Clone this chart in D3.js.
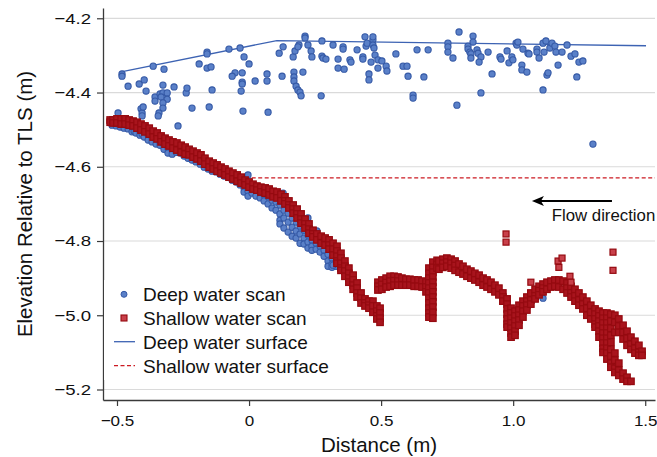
<!DOCTYPE html>
<html>
<head>
<meta charset="utf-8">
<script src="https://cdn.jsdelivr.net/npm/d3@7"></script>
<style>
  html, body { margin: 0; padding: 0; background: #ffffff; }
  svg { display: block; }
</style>
</head>
<body>
<svg id="chart" width="657" height="457"></svg>
<script>
// ---------------- DATA ----------------
const xTicks = [-0.5, 0, 0.5, 1.0, 1.5];
const xTickLabels = ["\u22120.5", "0", "0.5", "1.0", "1.5"];
const yTicks = [-4.2, -4.4, -4.6, -4.8, -5.0, -5.2];
const yTickLabels = ["\u22124.2", "\u22124.4", "\u22124.6", "\u22124.8", "\u22125.0", "\u22125.2"];

const xTitle = "Distance (m)";
const yTitle = "Elevation Relative to TLS (m)";
const legendLabels = ["Deep water scan", "Shallow water scan", "Deep water surface", "Shallow water surface"];
const annotationText = "Flow direction";
const arrowFrom = [1.374, -4.692];
const arrowTo = [1.071, -4.692];
const annotationPos = [1.146, -4.746];

// Deep water scan: scattered returns near the surface
const deepScanTop = [
[-0.481,-4.350],[-0.481,-4.356],[-0.458,-4.383],[-0.416,-4.377],[-0.397,-4.366],[-0.390,-4.396],
[-0.363,-4.329],[-0.356,-4.412],[-0.356,-4.423],[-0.337,-4.404],[-0.326,-4.380],[-0.326,-4.401],
[-0.333,-4.412],[-0.310,-4.401],[-0.310,-4.418],[-0.326,-4.428],[-0.326,-4.442],[-0.341,-4.455],
[-0.344,-4.463],[-0.322,-4.337],[-0.284,-4.385],[-0.238,-4.401],[-0.235,-4.388],[-0.216,-4.442],
[-0.189,-4.323],[-0.159,-4.291],[-0.159,-4.296],[-0.159,-4.334],[-0.144,-4.331],[-0.140,-4.393],
[-0.151,-4.439],[-0.076,-4.283],[-0.034,-4.280],[-0.019,-4.304],[0.000,-4.323],[-0.026,-4.347],
[-0.053,-4.347],[-0.064,-4.356],[-0.026,-4.372],[-0.026,-4.377],[-0.030,-4.396],[-0.023,-4.450],
[0.023,-4.369],[0.068,-4.350],[0.068,-4.369],[0.072,-4.453],[0.114,-4.294],[0.125,-4.356],
[0.129,-4.277],[0.167,-4.304],[0.174,-4.288],[0.189,-4.272],[0.185,-4.277],[0.212,-4.248],
[0.212,-4.253],[0.223,-4.272],[0.235,-4.288],[0.238,-4.304],[0.170,-4.345],[0.170,-4.358],
[0.170,-4.369],[0.178,-4.383],[0.185,-4.393],[0.193,-4.399],[0.197,-4.409],[0.204,-4.345],
[0.273,-4.409],[0.276,-4.261],[0.276,-4.302],[0.280,-4.307],[0.291,-4.310],[0.318,-4.272],
[0.337,-4.310],[0.337,-4.334],[0.360,-4.337],[0.356,-4.277],[0.356,-4.283],[0.382,-4.312],
[0.386,-4.318],[0.409,-4.285],[0.431,-4.304],[0.431,-4.310],[0.439,-4.250],[0.443,-4.275],
[0.447,-4.267],[0.454,-4.350],[0.454,-4.366],[0.462,-4.318],[0.469,-4.258],[0.469,-4.250],
[0.469,-4.272],[0.473,-4.280],[0.477,-4.299],[0.488,-4.312],[0.488,-4.334],[0.503,-4.315],
[0.519,-4.329],[0.522,-4.342],[0.556,-4.296],[0.583,-4.329],[0.598,-4.329],[0.602,-4.356],
[0.621,-4.407],[0.621,-4.415],[0.636,-4.285],[0.662,-4.358],[0.678,-4.285],[0.753,-4.267],
[0.753,-4.277],[0.753,-4.291],[0.772,-4.307],[0.787,-4.434],[0.795,-4.237],[0.829,-4.275],
[0.829,-4.283],[0.836,-4.291],[0.840,-4.296],[0.840,-4.307],[0.848,-4.248],[0.848,-4.264],
[0.863,-4.285],[0.867,-4.294],[0.878,-4.304],[0.871,-4.318],[0.878,-4.401],[0.905,-4.291],
[0.920,-4.350],[0.950,-4.304],[0.954,-4.310],[0.977,-4.288],[0.984,-4.320],[0.995,-4.304],
[0.999,-4.312],[1.011,-4.267],[1.014,-4.272],[1.018,-4.264],[1.033,-4.326],[1.033,-4.339],
[1.037,-4.283],[1.052,-4.345],[1.056,-4.294],[1.060,-4.296],[1.090,-4.283],[1.090,-4.291],
[1.098,-4.307],[1.113,-4.267],[1.113,-4.393],[1.117,-4.291],[1.124,-4.261],[1.128,-4.353],
[1.132,-4.347],[1.139,-4.280],[1.147,-4.267],[1.158,-4.275],[1.162,-4.291],[1.170,-4.326],
[1.185,-4.291],[1.204,-4.272],[1.219,-4.302],[1.234,-4.296],[1.241,-4.358],[1.249,-4.318],
[1.264,-4.315],[1.302,-4.539],
[-0.496,-4.455],[-0.409,-4.444],[-0.405,-4.455],[-0.405,-4.463],[-0.401,-4.439],[-0.269,-4.490],
[-0.004,-4.622],[0.129,-4.671],[0.223,-4.738],[0.257,-4.773],[0.318,-4.865],[1.113,-4.954]
];

// Deep water scan: bed returns (x, elevations read at that x)
const deepScanBed = [
[-0.519,[-4.477,-4.488]],[-0.503,[-4.480,-4.490]],[-0.488,[-4.482,-4.493]],[-0.473,[-4.485,-4.496]],
[-0.458,[-4.488,-4.498]],[-0.443,[-4.493,-4.506]],[-0.435,[-4.504]],[-0.428,[-4.498,-4.509]],
[-0.413,[-4.504,-4.515]],[-0.405,[-4.512]],[-0.397,[-4.509,-4.520]],[-0.382,[-4.515,-4.528]],
[-0.367,[-4.523,-4.533]],[-0.352,[-4.528,-4.539]],[-0.337,[-4.533,-4.542]],[-0.322,[-4.542,-4.553]],
[-0.307,[-4.550,-4.563]],[-0.291,[-4.555,-4.566]],[-0.276,[-4.547,-4.561]],[-0.261,[-4.553,-4.563]],
[-0.246,[-4.561,-4.571]],[-0.231,[-4.566,-4.577]],[-0.216,[-4.571,-4.582]],[-0.201,[-4.577,-4.587]],
[-0.185,[-4.582,-4.593]],[-0.170,[-4.590,-4.601]],[-0.155,[-4.595,-4.606]],[-0.140,[-4.601,-4.612]],
[-0.125,[-4.604,-4.614]],[-0.110,[-4.609,-4.620]],[-0.095,[-4.614,-4.625]],[-0.079,[-4.617,-4.628]],
[-0.064,[-4.622,-4.636]],[-0.049,[-4.628,-4.641]],[-0.034,[-4.633,-4.649]],[-0.019,[-4.641,-4.657,-4.668]],
[-0.004,[-4.649,-4.666,-4.679]],[0.011,[-4.657,-4.671]],[0.026,[-4.663,-4.679]],[0.042,[-4.668,-4.684]],
[0.057,[-4.676,-4.692]],[0.072,[-4.681,-4.700]],[0.087,[-4.690,-4.711]],[0.102,[-4.695,-4.717]],
[0.117,[-4.703,-4.727,-4.744,-4.754]],[0.132,[-4.717,-4.738,-4.765]],[0.148,[-4.725,-4.749,-4.776]],
[0.163,[-4.738,-4.763,-4.787]],[0.178,[-4.749,-4.773,-4.792]],[0.193,[-4.760,-4.781,-4.806]],
[0.208,[-4.771,-4.792,-4.808]],[0.223,[-4.784,-4.803,-4.819]],[0.238,[-4.797,-4.814,-4.825]],
[0.254,[-4.806,-4.822]],[0.269,[-4.814,-4.830]],[0.284,[-4.825,-4.841]],
[0.299,[-4.836,-4.854,-4.868]],[0.314,[-4.846,-4.862,-4.871]],[0.329,[-4.857,-4.868]]
];

// Shallow water scan (x, elevations read at that x)
const shallowScan = [
[-0.526,[-4.474,-4.480]],[-0.515,[-4.474,-4.482]],[-0.500,[-4.471,-4.482]],[-0.484,[-4.471,-4.485]],
[-0.469,[-4.471,-4.485]],[-0.454,[-4.474,-4.488]],[-0.439,[-4.477,-4.490]],[-0.424,[-4.480,-4.496]],
[-0.409,[-4.485,-4.501]],[-0.394,[-4.490,-4.506]],[-0.378,[-4.496,-4.512]],[-0.363,[-4.504,-4.520]],
[-0.348,[-4.509,-4.525]],[-0.333,[-4.517,-4.533]],[-0.318,[-4.523,-4.539]],[-0.303,[-4.528,-4.544]],
[-0.288,[-4.533,-4.550]],[-0.273,[-4.536,-4.555]],[-0.257,[-4.542,-4.561]],[-0.242,[-4.547,-4.566]],
[-0.227,[-4.553,-4.568]],[-0.212,[-4.558,-4.574]],[-0.197,[-4.563,-4.579]],[-0.182,[-4.568,-4.585]],
[-0.167,[-4.577,-4.593]],[-0.151,[-4.585,-4.601]],[-0.136,[-4.590,-4.606]],[-0.121,[-4.595,-4.612]],
[-0.106,[-4.601,-4.617]],[-0.091,[-4.606,-4.622]],[-0.076,[-4.612,-4.628]],[-0.061,[-4.617,-4.633]],
[-0.045,[-4.622,-4.639]],[-0.030,[-4.628,-4.644]],[-0.015,[-4.636,-4.649]],[0.000,[-4.641,-4.655]],
[0.015,[-4.647,-4.660]],[0.030,[-4.652,-4.663]],[0.045,[-4.655,-4.668]],[0.061,[-4.657,-4.671]],
[0.076,[-4.660,-4.676]],[0.091,[-4.666,-4.681]],[0.106,[-4.668,-4.684]],[0.121,[-4.674,-4.692]],
[0.136,[-4.681,-4.692,-4.700]],[0.151,[-4.692,-4.703,-4.711]],[0.167,[-4.703,-4.714,-4.725]],
[0.182,[-4.714,-4.727,-4.738]],[0.197,[-4.727,-4.741,-4.752]],[0.212,[-4.741,-4.754,-4.765]],
[0.227,[-4.754,-4.768,-4.779]],[0.242,[-4.771,-4.781,-4.789]],
[0.257,[-4.781,-4.797]],[0.273,[-4.787,-4.806]],[0.288,[-4.792,-4.811]],[0.303,[-4.797,-4.811,-4.822]],
[0.318,[-4.806,-4.822,-4.838]],
[0.333,[-4.814,-4.827,-4.841,-4.854,-4.860]],
[0.348,[-4.833,-4.846,-4.860,-4.873,-4.879]],
[0.363,[-4.854,-4.868,-4.881,-4.895]],
[0.378,[-4.873,-4.887,-4.900,-4.911]],
[0.394,[-4.892,-4.905,-4.919,-4.930]],
[0.409,[-4.913,-4.927,-4.940,-4.951]],
[0.424,[-4.940,-4.954,-4.967]],[0.439,[-4.956,-4.967,-4.975]],[0.454,[-4.962,-4.973,-4.981]],
[0.469,[-4.962,-4.975,-4.992]],[0.484,[-4.975,-4.989,-5.002,-5.010]],[0.496,[-4.981,-4.994,-5.008,-5.019]],
[0.488,[-4.911,-4.922,-4.932]],[0.503,[-4.905,-4.917,-4.930]],[0.519,[-4.900,-4.912,-4.924]],
[0.534,[-4.895,-4.908,-4.922]],[0.549,[-4.895,-4.907,-4.919]],[0.564,[-4.897,-4.908,-4.919]],
[0.579,[-4.900,-4.919]],[0.594,[-4.903,-4.919]],[0.609,[-4.903,-4.919]],[0.625,[-4.905,-4.922]],
[0.640,[-4.905,-4.922]],[0.655,[-4.908,-4.924]],[0.670,[-4.911,-4.924,-4.937]],
[0.681,[-4.873,-4.887,-4.900,-4.913,-4.927,-4.940,-4.954,-4.967,-4.981,-4.994,-5.005]],
[0.696,[-4.857,-4.871,-4.884,-4.897,-4.911,-4.924,-4.937,-4.951,-4.964,-4.978,-4.992,-5.008]],
[0.712,[-4.852,-4.863,-4.873]],
[0.719,[-4.854,-4.876]],[0.734,[-4.849,-4.860,-4.871]],[0.749,[-4.846,-4.857,-4.868]],[0.765,[-4.849,-4.860,-4.873]],
[0.780,[-4.854,-4.866,-4.879]],[0.795,[-4.862,-4.884]],[0.810,[-4.868,-4.889]],[0.825,[-4.876,-4.895]],
[0.840,[-4.881,-4.900]],[0.855,[-4.887,-4.905]],[0.871,[-4.892,-4.911]],[0.886,[-4.900,-4.919]],
[0.901,[-4.905,-4.924]],[0.916,[-4.911,-4.930]],[0.931,[-4.919,-4.937]],[0.946,[-4.927,-4.945]],
[0.961,[-4.940,-4.951,-4.962]],
[0.977,[-4.956,-4.970,-4.983,-4.997,-5.010,-5.024,-5.032]],
[0.992,[-4.981,-4.994,-5.008,-5.021,-5.035,-5.048,-5.059]],
[1.007,[-4.989,-5.002,-5.016,-5.029,-5.043,-5.054]],
[1.022,[-4.973,-4.986,-5.000,-5.013,-5.027]],
[1.037,[-4.962,-4.975,-4.989,-5.005]],[1.052,[-4.951,-4.962,-4.973,-4.986]],[1.067,[-4.940,-4.959,-4.970]],
[1.083,[-4.930,-4.948,-4.956]],[1.098,[-4.922,-4.934,-4.945]],[1.113,[-4.916,-4.927,-4.937]],[1.128,[-4.911,-4.930]],
[1.143,[-4.908,-4.924]],[1.158,[-4.905,-4.922]],[1.173,[-4.905,-4.924]],[1.189,[-4.908,-4.930]],
[1.204,[-4.913,-4.927,-4.940]],[1.219,[-4.922,-4.940,-4.951]],[1.234,[-4.930,-4.948,-4.962]],
[1.249,[-4.940,-4.959,-4.973]],[1.264,[-4.951,-4.970,-4.983]],[1.279,[-4.962,-4.981,-5.000]],
[1.294,[-4.973,-4.992,-5.010]],[1.310,[-4.983,-4.997,-5.010,-5.024,-5.032]],
[1.325,[-4.989,-5.002,-5.016,-5.029,-5.043,-5.059]],
[1.340,[-4.994,-5.008,-5.021,-5.035,-5.048,-5.062,-5.075,-5.089,-5.100]],
[1.355,[-4.994,-5.008,-5.021,-5.035,-5.048,-5.062,-5.075,-5.089,-5.102,-5.118]],
[1.370,[-4.997,-5.016,-5.035,-5.054,-5.073,-5.092,-5.110,-5.129,-5.140]],
[1.385,[-5.000,-5.019,-5.046,-5.102,-5.121,-5.143,-5.154]],
[1.400,[-5.010,-5.029,-5.046,-5.129,-5.148,-5.162]],
[1.416,[-5.027,-5.046,-5.064,-5.156,-5.172]],
[1.431,[-5.043,-5.062,-5.081,-5.167,-5.178]],
[1.446,[-5.059,-5.078,-5.092,-5.178]],
[1.461,[-5.070,-5.089,-5.102]],[1.476,[-5.081,-5.100,-5.108]],[1.488,[-5.097,-5.108]]
];

const shallowOutliers = [
[0.973,-4.781],[0.973,-4.803],[1.067,-4.911],[1.170,-4.854],[1.173,-4.871],
[1.185,-4.846],[1.215,-4.895],[1.219,-4.911],[1.378,-4.830],[1.378,-4.879]
];

const deepSurface = [[-0.48,-4.344],[0.105,-4.260],[1.503,-4.274]];
const shallowSurface = [[0.01,-4.63],[1.537,-4.63]];

// ---------------- STYLE ----------------
const FONT = "'Liberation Sans', Arial, Helvetica, sans-serif";
const blueFill = "#5a80c8", blueStroke = "#3559a6";
const redFill = "#a8141d", redStroke = "#950a10";
const deepLine = "#3d63b3", shallowLine = "#cc1a22";

// ---------------- CHART ----------------
const svg = d3.select("#chart");
svg.append("rect").attr("width", 657).attr("height", 457).attr("fill", "#fff");

const x = d3.scaleLinear().domain([-0.553, 1.537]).range([103, 655]);
const y = d3.scaleLinear().domain([-5.2283, -4.1723]).range([400, 8]);

// gridlines
svg.append("g").selectAll("line").data(yTicks).join("line")
  .attr("x1", 103).attr("x2", 655)
  .attr("y1", d => y(d)).attr("y2", d => y(d))
  .attr("stroke", "#dadada").attr("stroke-width", 1.2);

// surface lines
svg.append("path").datum(deepSurface)
  .attr("d", d3.line().x(d => x(d[0])).y(d => y(d[1])))
  .attr("fill", "none").attr("stroke", deepLine).attr("stroke-width", 1.3);
svg.append("path").datum(shallowSurface)
  .attr("d", d3.line().x(d => x(d[0])).y(d => y(d[1])))
  .attr("fill", "none").attr("stroke", shallowLine).attr("stroke-width", 1.3)
  .attr("stroke-dasharray", "4,2.5");

// deep scan points
const deepPts = deepScanBed.flatMap(([xv, ys]) => ys.map(v => [xv, v])).concat(deepScanTop);
svg.append("g").selectAll("circle").data(deepPts).join("circle")
  .attr("cx", d => x(d[0])).attr("cy", d => y(d[1])).attr("r", 3.1)
  .attr("fill", blueFill).attr("stroke", blueStroke).attr("stroke-width", 1.1);

// shallow scan points
const shallowPts = shallowScan.flatMap(([xv, ys]) => ys.map(v => [xv, v]));
const sq = 6.5;
svg.append("g").selectAll("rect").data(shallowPts).join("rect")
  .attr("x", d => x(d[0]) - sq / 2).attr("y", d => y(d[1]) - sq / 2)
  .attr("width", sq).attr("height", sq)
  .attr("fill", redFill).attr("stroke", redStroke).attr("stroke-width", 1.2);
// isolated shallow returns (lighter interior visible)
svg.append("g").selectAll("rect").data(shallowOutliers).join("rect")
  .attr("x", d => x(d[0]) - 3).attr("y", d => y(d[1]) - 3)
  .attr("width", 6).attr("height", 6)
  .attr("fill", "#c8404a").attr("stroke", redStroke).attr("stroke-width", 1.2);

// axes
const yAxis = d3.axisLeft(y).tickValues(yTicks).tickSize(6).tickSizeOuter(0)
  .tickPadding(6).tickFormat((d, i) => yTickLabels[i]);
const gy = svg.append("g").attr("transform", "translate(103,0)").call(yAxis);
const xAxis = d3.axisBottom(x).tickValues(xTicks).tickSize(6).tickSizeOuter(0)
  .tickPadding(9).tickFormat((d, i) => xTickLabels[i]);
const gx = svg.append("g").attr("transform", "translate(0,400)").call(xAxis);
[gy, gx].forEach(g => {
  g.select(".domain").attr("stroke", "#3a3a3a").attr("stroke-width", 1.3);
  g.selectAll(".tick line").attr("stroke", "#3a3a3a").attr("stroke-width", 1.2);
  g.selectAll(".tick text").attr("fill", "#111").style("font-family", FONT).style("font-size", "15.5px");
});
gy.selectAll(".tick text").each(function () {
  const t = d3.select(this);
  const tx = +t.attr("x");
  t.attr("x", 0).attr("transform", `translate(${tx},0) scale(1.2,1)`);
});
gx.selectAll(".tick text").each(function () {
  const t = d3.select(this);
  const ty = +t.attr("y");
  t.attr("y", 0).attr("transform", `translate(0,${ty}) scale(1.1,1)`);
});

// axis titles
svg.append("text").attr("x", 379).attr("y", 452).attr("text-anchor", "middle")
  .style("font-family", FONT).style("font-size", "20.5px").attr("fill", "#111").text(xTitle);
svg.append("text").attr("transform", "translate(32,204) rotate(-90)").attr("text-anchor", "middle")
  .style("font-family", FONT).style("font-size", "20.5px").attr("fill", "#111").text(yTitle);

// annotation arrow
const ax1 = x(arrowFrom[0]), ax2 = x(arrowTo[0]), ay = y(arrowFrom[1]);
svg.append("line").attr("x1", ax1).attr("x2", ax2 + 9).attr("y1", ay).attr("y2", ay)
  .attr("stroke", "#000").attr("stroke-width", 2);
svg.append("path")
  .attr("d", `M${ax2},${ay} L${ax2 + 12},${ay - 5} L${ax2 + 9},${ay} L${ax2 + 12},${ay + 5} Z`)
  .attr("fill", "#000");
svg.append("text").attr("x", x(annotationPos[0])).attr("y", y(annotationPos[1]))
  .style("font-family", FONT).style("font-size", "16.8px").attr("fill", "#111").text(annotationText);

// legend
const lg = svg.append("g");
lg.append("rect").attr("x", 104).attr("y", 280).attr("width", 216).attr("height", 100).attr("fill", "#fff");
const rowsY = [301, 325, 348.5, 372.5];
legendLabels.forEach((lab, i) => {
  lg.append("text").attr("x", 143).attr("y", rowsY[i])
    .style("font-family", FONT).style("font-size", "19px").attr("fill", "#111").text(lab);
});
lg.append("circle").attr("cx", 124).attr("cy", 294.3).attr("r", 3)
  .attr("fill", blueFill).attr("stroke", blueStroke).attr("stroke-width", 1);
lg.append("rect").attr("x", 121).attr("y", 315).attr("width", 6).attr("height", 6)
  .attr("fill", "#c8404a").attr("stroke", redStroke).attr("stroke-width", 1.1);
lg.append("line").attr("x1", 114).attr("x2", 135).attr("y1", 341.7).attr("y2", 341.7)
  .attr("stroke", deepLine).attr("stroke-width", 1.3);
lg.append("line").attr("x1", 114).attr("x2", 135).attr("y1", 365.7).attr("y2", 365.7)
  .attr("stroke", shallowLine).attr("stroke-width", 1.3).attr("stroke-dasharray", "4,2.5");
</script>
</body>
</html>
